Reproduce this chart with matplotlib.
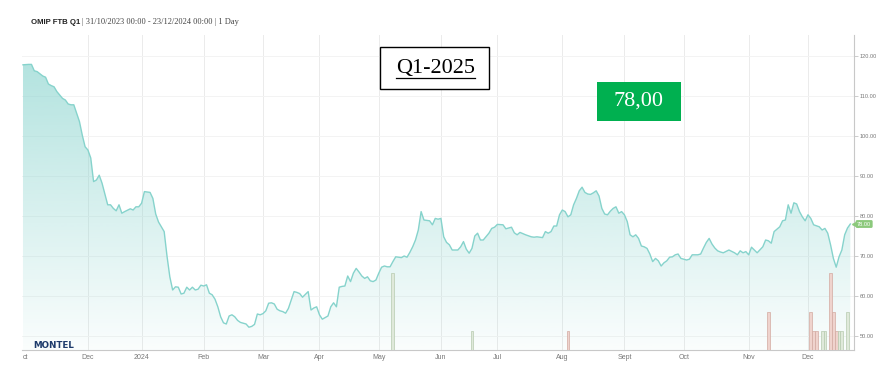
import numpy as np
import pandas as pd
import matplotlib.pyplot as plt
from matplotlib.patches import Polygon, Rectangle
from matplotlib.lines import Line2D

# trading sessions counted from 31/10/2023 (OMIP calendar, weekends + holidays skipped)
session = [0, 2, 3, 4, 5, 7, 8, 9, 10, 11,
           12, 14, 15, 16, 17, 18, 20, 21, 22, 23,
           24, 25, 26, 27, 28, 29, 30, 31, 32, 33,
           34, 35, 36, 38, 39, 40, 41, 42, 43, 45,
           46, 47, 48, 49, 50, 51, 52, 53, 54, 55,
           56, 57, 58, 59, 60, 61, 62, 63, 64, 65,
           66, 67, 68, 69, 70, 71, 72, 73, 74, 75,
           76, 77, 78, 79, 80, 81, 82, 83, 84, 85,
           86, 87, 88, 89, 90, 91, 92, 93, 94, 95,
           96, 97, 98, 99, 100, 101, 102, 103, 104, 105,
           106, 107, 108, 109, 110, 111, 112, 113, 114, 115,
           116, 117, 118, 119, 120, 121, 122, 123, 124, 125,
           126, 127, 128, 129, 130, 131, 132, 133, 134, 135,
           136, 137, 138, 139, 140, 141, 142, 143, 144, 145,
           146, 147, 148, 149, 150, 151, 152, 154, 155, 156,
           157, 158, 159, 160, 161, 162, 163, 165, 166, 167,
           168, 170, 171, 173, 174, 175, 176, 178, 180, 181,
           182, 184, 185, 186, 187, 188, 189, 190, 191, 192,
           193, 194, 195, 196, 197, 198, 199, 200, 201, 202,
           203, 204, 205, 206, 207, 208, 209, 210, 211, 212,
           213, 214, 215, 216, 217, 218, 219, 220, 221, 222,
           223, 224, 225, 226, 227, 228, 229, 230, 231, 232,
           233, 235, 236, 237, 239, 240, 241, 242, 243, 244,
           245, 246, 247, 248, 250, 252, 253, 254, 255, 256,
           257, 258, 259, 260, 262, 263, 264, 265, 266, 268,
           269, 270, 271, 272, 273, 274, 275, 276, 277, 278,
           279, 280, 282, 283, 284, 285, 286, 287, 288, 289,
           290, 291, 292, 293]
price = [117.8, 117.9, 117.9, 116.3, 116.1, 115.0, 114.7, 113.0, 112.6, 112.3,
         111.1, 109.4, 109.0, 108.0, 107.8, 107.8, 103.6, 100.2, 97.3, 96.5,
         94.5, 88.6, 89.0, 90.2, 88.2, 85.5, 82.8, 82.8, 81.9, 81.3,
         82.8, 80.7, 81.1, 81.8, 81.5, 82.3, 82.3, 83.2, 86.1, 85.9,
         84.4, 80.5, 78.5, 77.3, 76.1, 70.0, 64.8, 61.5, 62.3, 62.2,
         60.5, 60.7, 62.2, 61.5, 62.2, 61.5, 61.7, 62.7, 62.5, 62.8,
         60.7, 60.3, 59.2, 57.3, 54.8, 53.3, 53.0, 55.0, 55.3, 54.8,
         53.9, 53.4, 53.2, 53.0, 52.2, 52.4, 52.9, 55.5, 55.3, 55.6,
         56.3, 58.2, 58.3, 58.0, 56.7, 56.3, 56.1, 55.7, 56.9, 59.0,
         61.1, 60.9, 60.6, 59.7, 60.4, 61.1, 56.5, 57.0, 57.3, 55.3,
         54.2, 54.6, 55.0, 57.3, 58.3, 57.3, 62.2, 62.4, 62.5, 65.0,
         63.6, 65.7, 66.9, 66.0, 65.0, 64.4, 64.8, 63.8, 63.6, 64.0,
         65.7, 67.2, 67.5, 67.3, 67.3, 68.6, 69.8, 69.7, 69.6, 70.0,
         69.7, 70.9, 72.3, 74.0, 76.5, 81.1, 79.0, 78.9, 78.8, 77.8,
         79.4, 79.2, 79.4, 74.8, 73.4, 72.8, 71.5, 71.5, 72.3, 73.6,
         71.7, 70.7, 71.9, 75.0, 75.7, 74.0, 74.0, 75.7, 76.9, 77.2,
         77.9, 77.8, 76.8, 77.2, 75.8, 75.3, 75.9, 75.3, 74.8, 74.7,
         74.8, 74.6, 76.1, 75.7, 76.1, 77.5, 77.5, 80.3, 81.5, 81.1,
         79.8, 80.3, 82.8, 84.4, 86.3, 87.2, 85.9, 85.5, 85.4, 85.8,
         86.3, 85.0, 81.9, 80.5, 80.3, 81.2, 81.9, 82.3, 80.7, 81.1,
         80.3, 78.6, 75.3, 74.8, 75.3, 74.4, 72.5, 72.3, 71.9, 70.5,
         68.6, 69.4, 68.8, 67.5, 68.3, 68.8, 69.7, 69.8, 70.3, 70.5,
         69.4, 69.0, 69.2, 70.3, 70.3, 70.5, 72.0, 73.4, 74.4, 73.0,
         72.0, 71.3, 71.0, 70.8, 71.5, 70.8, 70.3, 71.3, 70.8, 71.1,
         70.3, 72.2, 71.5, 70.8, 72.3, 74.0, 73.8, 73.2, 76.1, 77.3,
         78.8, 79.0, 82.8, 80.7, 83.3, 83.0, 81.1, 79.8, 78.8, 80.3,
         79.4, 77.8, 77.3, 76.5, 76.9, 75.7, 72.8, 69.4, 67.2, 69.8,
         71.5, 75.3, 77.0, 78.0]

# traded volume bars
vol_session = [131, 159, 193, 264, 279, 280, 281, 283, 284, 286, 287, 288, 289, 290, 292]
vol = [4, 1, 1, 2, 2, 1, 1, 1, 1, 4, 2, 1, 1, 1, 2]
vol_dir = ["up", "up", "down", "down", "down", "down", "down", "up", "up",
           "down", "down", "down", "up", "up", "up"]

holidays = ["2023-12-25", "2023-12-26", "2024-01-01", "2024-03-29", "2024-04-01", "2024-05-01"]
days = pd.bdate_range("2023-10-31", "2024-12-23")
days = days[~days.isin(pd.to_datetime(holidays))]
month_labels = ["ct", "Dec", "2024", "Feb", "Mar", "Apr", "May", "Jun", "Jul",
                "Aug", "Sept", "Oct", "Nov", "Dec"]
s = pd.Series(np.arange(len(days)), index=days)
month_pos = s.groupby([days.year, days.month]).first().values[1:]

W, H = 878, 378
fig = plt.figure(figsize=(W / 100, H / 100), dpi=100)
ax = fig.add_axes([22 / W, 28 / H, 832 / W, 315 / H])
x0, x1 = -0.35, 294.3
y0, y1 = 46.5, 125.25

# volume on a hidden twin axis
ax2 = ax.twinx()
ax2.set_ylim(0, 315 / 19.2)
ax2.set_yticks([])
for sp in ax2.spines.values():
    sp.set_visible(False)
fc = {"up": "#dfe9da", "down": "#efd3cd"}
ec = {"up": "#b7cbb0", "down": "#d3aaa1"}
ax2.bar(vol_session, vol, width=1.0,
        color=[fc[d] for d in vol_dir], edgecolor=[ec[d] for d in vol_dir], lw=0.5)

# gradient area fill
poly = Polygon(list(zip(session, price)) + [(session[-1], y0), (session[0], y0)],
               closed=True, fc="none", ec="none")
ax.add_patch(poly)
g = np.linspace(0, 1, 256)[:, None]
img = np.zeros((256, 1, 4))
img[..., 0] = 140 / 255
img[..., 1] = 213 / 255
img[..., 2] = 207 / 255
img[..., 3] = 0.72 * (1 - g) + 0.04 * g
im = ax.imshow(img, extent=[x0, x1, y0, y1], aspect="auto", origin="upper", zorder=1)
im.set_clip_path(poly)
ax.plot(session, price, color="#86d3cc", lw=1.0, zorder=3)

ax.set_xlim(x0, x1)
ax.set_ylim(y0, y1)
ax2.set_xlim(x0, x1)

for m in month_pos[1:]:
    ax.axvline(m, color="#ebebeb", lw=0.7, zorder=0.5)
for v in range(50, 121, 10):
    ax.axhline(v, color="#f3f3f3", lw=0.7, zorder=0.5)

ax.set_yticks(range(50, 121, 10))
ax.set_yticklabels([f"{v:.2f}" for v in range(50, 121, 10)], family="Liberation Sans")
ax.yaxis.tick_right()
ax.tick_params(axis="y", left=False, labelleft=False, right=True, labelright=True,
               length=3, width=0.6, color="#c4c4c4", labelcolor="#777777",
               labelsize=4.1, pad=1)
ax.set_xticks(month_pos)
ax.set_xticklabels(month_labels, family="Liberation Sans")
ax.tick_params(axis="x", length=0, labelcolor="#777777", labelsize=5, pad=3)
for sp in ["top", "left"]:
    ax.spines[sp].set_visible(False)
for sp in ["right", "bottom"]:
    ax.spines[sp].set_color("#c8c8c8")
    ax.spines[sp].set_linewidth(0.8)

# last price flag
last = price[-1]
ax.plot(294.6, last, marker="<", ms=4, color="#8cc97c", clip_on=False, zorder=6)
ax.text(297.9, last, f"{last:.2f}", fontsize=4.1, color="white", ha="center", va="center",
        family="Liberation Sans", clip_on=False, zorder=6,
        bbox=dict(boxstyle="round,pad=0.25,rounding_size=0.25", fc="#8cc97c", ec="none"))

# header
fig.text(31 / W, 1 - 24 / H, "OMIP FTB Q1", fontsize=5.6, fontweight="bold",
         family="Liberation Sans", color="#222222")
fig.text(82 / W, 1 - 24 / H, "| 31/10/2023 00:00 - 23/12/2024 00:00 | 1 Day",
         fontsize=6, family="Liberation Serif", color="#444444")
fig.text(33 / W, 1 - 348.5 / H, "MONTEL", fontsize=6.3, fontweight="heavy",
         family="DejaVu Sans", color="#1d3a6b")

# Q1-2025 box
fig.patches.append(Rectangle((380 / W, 1 - 89.3 / H), 109 / W, 42.3 / H, transform=fig.transFigure,
                             fc="white", ec="black", lw=1.0))
t = fig.text(435.5 / W, 1 - 69 / H, "Q1-2025", fontsize=16, family="Liberation Serif",
             ha="center", va="center", color="black")
fig.canvas.draw()
bb = t.get_window_extent()
fig.lines.append(Line2D([bb.x0 / W, bb.x1 / W], [1 - 77.7 / H, 1 - 77.7 / H],
                        transform=fig.transFigure, color="black", lw=0.9))

# current price box
fig.patches.append(Rectangle((597 / W, 1 - 120.7 / H), 84 / W, 38.7 / H, transform=fig.transFigure,
                             fc="#00b050", ec="none"))
fig.text(639 / W, 1 - 101.5 / H, f"{last:.2f}".replace(".", ","), fontsize=16,
         family="Liberation Serif", ha="center", va="center", color="white")

fig.savefig("out.png", dpi=100)
